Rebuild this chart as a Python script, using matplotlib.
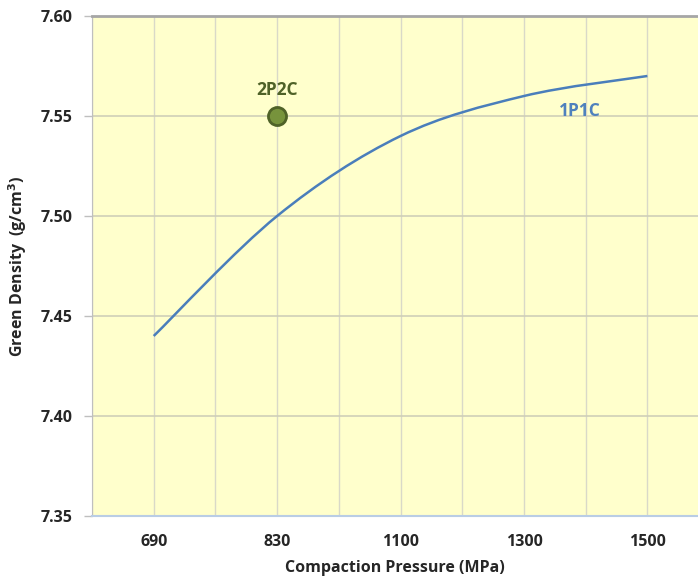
import numpy as np
import matplotlib
matplotlib.use("Agg")
import matplotlib.pyplot as plt
from matplotlib.path import Path
from matplotlib.patches import PathPatch

# data
pressures = ["690", "830", "1100", "1300", "1500"]
density_1p1c = [7.44, 7.50, 7.54, 7.56, 7.57]
point_2p2c_x = "830"
point_2p2c_y = 7.55
yticks = [7.35, 7.40, 7.45, 7.50, 7.55, 7.60]

plt.rcParams['font.family'] = ['Open Sans', 'DejaVu Sans']

def smooth_path(xs, ys, t=0.5):
    # excel style smoothed line: catmull-rom segments drawn as cubic beziers
    xs = np.asarray(xs, float)
    ys = np.asarray(ys, float)
    n = len(xs)
    verts = [(xs[0], ys[0])]
    codes = [Path.MOVETO]
    for i in range(n - 1):
        p0 = (xs[max(i - 1, 0)], ys[max(i - 1, 0)])
        p1 = (xs[i], ys[i])
        p2 = (xs[i + 1], ys[i + 1])
        p3 = (xs[min(i + 2, n - 1)], ys[min(i + 2, n - 1)])
        c1 = (p1[0] + (p2[0] - p0[0]) * t / 3, p1[1] + (p2[1] - p0[1]) * t / 3)
        c2 = (p2[0] - (p3[0] - p1[0]) * t / 3, p2[1] - (p3[1] - p1[1]) * t / 3)
        verts += [c1, c2, p2]
        codes += [Path.CURVE4] * 3
    return Path(verts, codes)

fig = plt.figure(figsize=(6.98, 5.77), dpi=100)
ax = fig.add_axes([92 / 698, 61 / 577, 606 / 698, 500 / 577])
ax.set_facecolor("#FFFFCC")

xpos = np.arange(len(pressures))
patch = PathPatch(smooth_path(xpos, density_1p1c), facecolor="none",
                  edgecolor="#4A7EBB", lw=1.8, zorder=3)
ax.add_patch(patch)

px = pressures.index(point_2p2c_x)
ax.plot([px], [point_2p2c_y], "o", ms=13, mfc="#77933C", mec="#4F6228",
        mew=2, zorder=4)
ax.text(px, point_2p2c_y + 0.013, "2P2C", ha="center", va="center",
        fontsize=12.5, fontweight="bold", color="#4F6228")
ax.text(3.45, 7.5525, "1P1C", ha="center", va="center",
        fontsize=12.5, fontweight="bold", color="#4F81BD")

ax.set_xlim(-0.5, 4.41)
ax.set_ylim(7.35, 7.60)
ax.set_xticks(xpos)
ax.set_xticklabels(pressures)
ax.set_xticks(np.arange(-0.5, 4.5, 1.0), minor=True)
ax.set_yticks(yticks)
ax.set_yticklabels(["%.2f" % v for v in yticks])

ax.grid(True, which="both", axis="x", color="#D9D9C8", lw=1)
ax.grid(True, axis="y", color="#CFCFB8", lw=1.2)
ax.set_axisbelow(True)

ax.tick_params(axis="x", which="both", length=0, pad=13)
ax.tick_params(axis="y", length=6, width=1, color="#BFBFBF", pad=8)
for lab in ax.get_xticklabels() + ax.get_yticklabels():
    lab.set_fontweight("bold")
    lab.set_fontsize(11.5)
    lab.set_color("#262626")

ax.spines["right"].set_visible(False)
ax.spines["top"].set_color("#A6A6A6")
ax.spines["top"].set_linewidth(2)
ax.spines["left"].set_color("#BFBFBF")
ax.spines["bottom"].set_color("#B9CDE5")
ax.spines["bottom"].set_linewidth(1.5)

ax.set_xlabel("Compaction Pressure (MPa)", fontsize=11.5, fontweight="bold",
              color="#262626", labelpad=7)
ax.set_ylabel("Green Density  (g/cm$^\\mathbf{3}$)", fontsize=11.5,
              fontweight="bold", color="#262626", labelpad=8)

fig.savefig("out.png", dpi=100)
